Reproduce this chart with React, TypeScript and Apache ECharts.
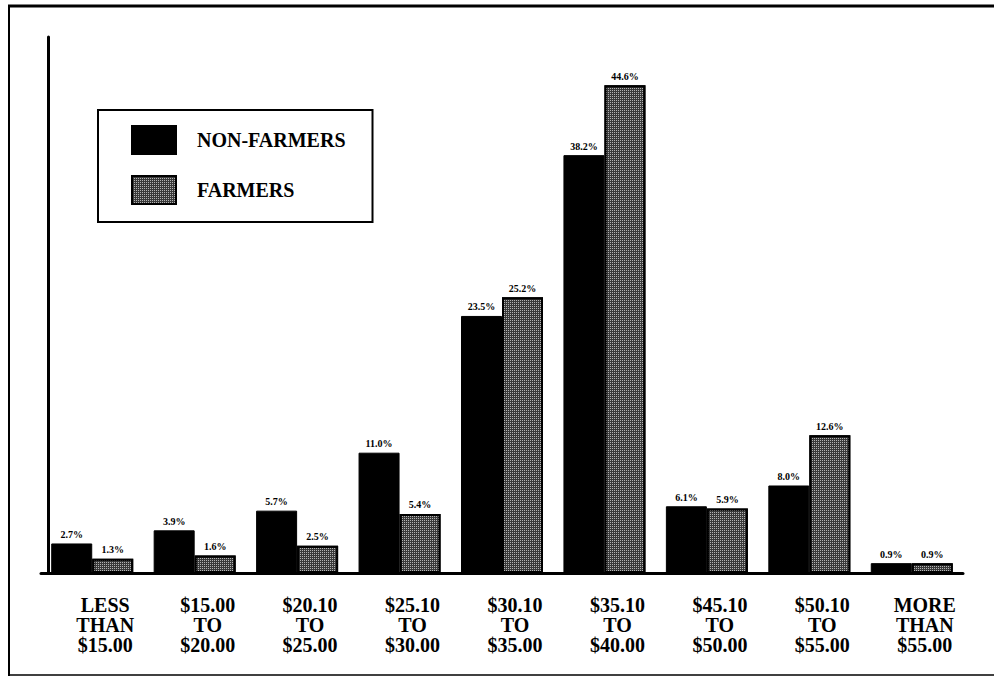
import React, { useEffect, useRef } from "react";
import * as echarts from "echarts";

// Hourly wage brackets
const categories: string[] = [
  "LESS\nTHAN\n$15.00",
  "$15.00\nTO\n$20.00",
  "$20.10\nTO\n$25.00",
  "$25.10\nTO\n$30.00",
  "$30.10\nTO\n$35.00",
  "$35.10\nTO\n$40.00",
  "$45.10\nTO\n$50.00",
  "$50.10\nTO\n$55.00",
  "MORE\nTHAN\n$55.00",
];

// Share of respondents in each bracket (%)
const nonFarmers: number[] = [2.7, 3.9, 5.7, 11.0, 23.5, 38.2, 6.1, 8.0, 0.9];
const farmers: number[] = [1.3, 1.6, 2.5, 5.4, 25.2, 44.6, 5.9, 12.6, 0.9];

const seriesNames = ["NON-FARMERS", "FARMERS"];

const SERIF = "'Liberation Serif', 'DejaVu Serif', serif";

export default function App() {
  const ref = useRef<HTMLDivElement>(null);

  useEffect(() => {
    if (!ref.current) return;
    const chart = echarts.init(ref.current, undefined, { renderer: "svg" });

    const valueLabel = {
      show: true,
      position: "top" as const,
      distance: 4,
      formatter: (p: any) => `${Number(p.value).toFixed(1)}%`,
      fontFamily: SERIF,
      fontWeight: "bold" as const,
      fontSize: 10,
      color: "#000",
    };

    chart.setOption({
      animation: false,
      backgroundColor: "#fff",
      grid: { left: 41, top: 37, width: 922, height: 536, containLabel: false },
      legend: {
        orient: "vertical",
        left: 98,
        top: 110,
        padding: [15, 27, 17, 33],
        itemGap: 20,
        itemWidth: 44,
        itemHeight: 28,
        borderColor: "#000",
        borderWidth: 2,
        icon: "rect",
        textStyle: {
          fontFamily: SERIF,
          fontWeight: "bold",
          fontSize: 20,
          color: "#000",
          padding: [0, 0, 0, 16],
        },
        data: seriesNames,
      },
      xAxis: {
        type: "category",
        data: categories,
        axisLine: { show: true, lineStyle: { color: "#000", width: 3 } },
        axisTick: { show: false },
        axisLabel: {
          interval: 0,
          margin: 22,
          fontFamily: SERIF,
          fontWeight: "bold",
          fontSize: 20,
          lineHeight: 20,
          color: "#000",
          padding: [0, 0, 0, 26],
        },
      },
      yAxis: {
        type: "value",
        min: 0,
        max: 49,
        offset: -7,
        axisLine: { show: true, lineStyle: { color: "#000", width: 3 } },
        axisTick: { show: false },
        axisLabel: { show: false },
        splitLine: { show: false },
      },
      series: [
        {
          name: seriesNames[0],
          type: "bar",
          data: nonFarmers,
          barWidth: 41,
          barGap: "0%",
          itemStyle: { color: "#000", borderColor: "#000", borderWidth: 1 },
          label: valueLabel,
        },
        {
          name: seriesNames[1],
          type: "bar",
          data: farmers,
          barWidth: 41,
          barGap: "0%",
          itemStyle: {
            color: "#3a3a3a",
            borderColor: "#000",
            borderWidth: 2,
            decal: {
              symbol: "rect",
              symbolSize: 1,
              color: "rgba(255,255,255,0.62)",
              dashArrayX: [1, 1],
              dashArrayY: [1, 1],
              rotation: 0,
            },
          },
          label: valueLabel,
        },
      ],
      graphic: [
        {
          type: "line",
          shape: { x1: 8, y1: 6, x2: 994, y2: 6 },
          style: { stroke: "#000", lineWidth: 3 },
        },
        {
          type: "line",
          shape: { x1: 9, y1: 5, x2: 9, y2: 676 },
          style: { stroke: "#000", lineWidth: 2 },
        },
        {
          type: "line",
          shape: { x1: 8, y1: 675, x2: 994, y2: 675 },
          style: { stroke: "#000", lineWidth: 1.5 },
        },
      ],
    });

    return () => chart.dispose();
  }, []);

  return (
    <div
      ref={ref}
      style={{ position: "fixed", left: 0, top: 0, width: 994, height: 676 }}
    />
  );
}
